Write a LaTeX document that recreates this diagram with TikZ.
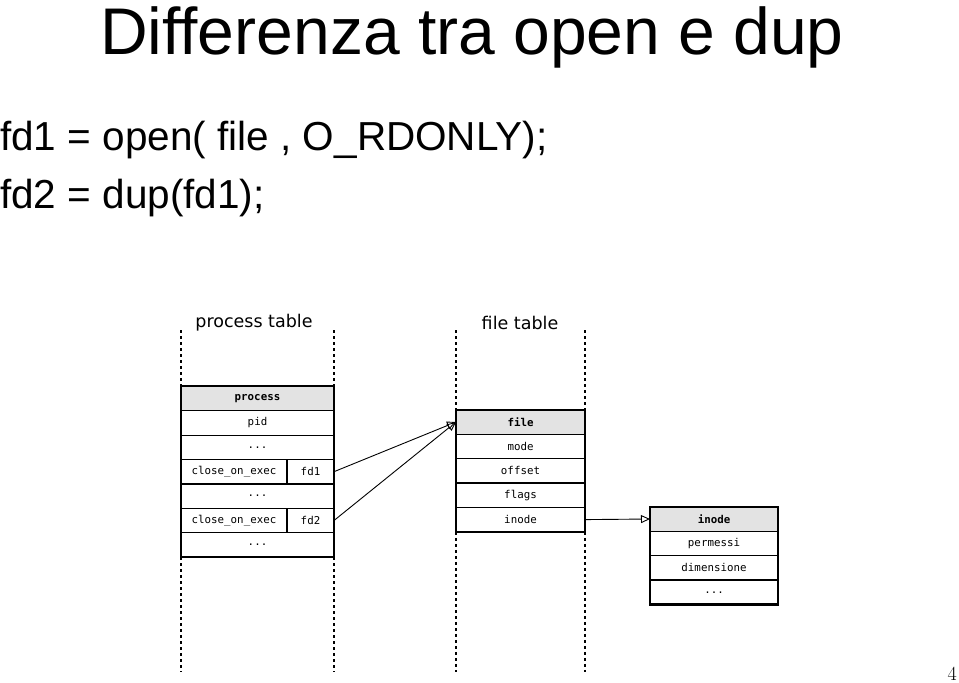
\documentclass[tikz,border=0pt]{standalone}
\usepackage{fontspec}
\newfontfamily\slidefont{Liberation Sans}
\newfontfamily\labelfont{DejaVu Sans}
\newfontfamily\cellfont{DejaVu Sans Mono}
\usetikzlibrary{arrows.meta,positioning}

\tikzset{
  cell/.style={draw,line width=1.2pt,fill=white,outer sep=0pt,inner sep=0pt,
    minimum height=24.4pt,font=\cellfont\fontsize{10.8}{10.8}\selectfont},
  head/.style={cell,fill=gray!22,font=\cellfont\bfseries\fontsize{10.8}{10.8}\selectfont},
  lane/.style={line width=2.5pt,dash pattern=on 3pt off 3pt},
  frame/.style={line width=2.2pt},
  ptr/.style={line width=0.9pt,-{Triangle[open,length=9pt,width=8pt]}}
}

\begin{document}
\begin{tikzpicture}[x=1pt,y=-1pt]
\useasboundingbox (0,0) rectangle (959,683);

% slide text
\node[anchor=base,inner sep=0pt,font=\slidefont\fontsize{66}{66}\selectfont] (title) at (472,54) {Differenza tra open e dup};
\node[anchor=base west,inner sep=0pt,font=\slidefont\fontsize{40.5}{40.5}\selectfont] (line1) at (0,150) {fd1 = open( file , O\_RDONLY);};
\node[anchor=base west,inner sep=0pt,font=\slidefont\fontsize{40.5}{40.5}\selectfont] (line2) at (0,208) {fd2 = dup(fd1);};
\node[anchor=base east,inner sep=0pt,font=\fontsize{20}{20}\selectfont] (pagenum) at (957,680) {4};

% process table
\node[font=\labelfont\fontsize{17.5}{17.5}\selectfont] (ptlabel) at (254,323) {process table};
\node[head,minimum width=153pt] (proc) at (257.5,398.5) {process};
\node[cell,minimum width=153pt,below=0pt of proc] (pid) {pid};
\node[cell,minimum width=153pt,below=0pt of pid] (dotsa) {...};
\node[cell,minimum width=106pt,anchor=north west] (coea) at (dotsa.south west) {close\_on\_exec};
\node[cell,minimum width=47pt,right=0pt of coea] (fd1) {fd1};
\node[cell,minimum width=153pt,anchor=north west] (dotsb) at (coea.south west) {...};
\node[cell,minimum width=106pt,anchor=north west] (coeb) at (dotsb.south west) {close\_on\_exec};
\node[cell,minimum width=47pt,right=0pt of coeb] (fd2) {fd2};
\node[cell,minimum width=153pt,anchor=north west] (dotsc) at (coeb.south west) {...};
\draw[frame] (proc.north west) rectangle (dotsc.south east);
\draw[lane] (proc.north west |- 0,330) -- (proc.north west);
\draw[lane] (proc.north east |- 0,330) -- (proc.north east);
\draw[lane] (dotsc.south west) -- (dotsc.south west |- 0,672);
\draw[lane] (dotsc.south east) -- (dotsc.south east |- 0,672);

% file table
\node[font=\labelfont\fontsize{17.5}{17.5}\selectfont] (ftlabel) at (520,323) {file table};
\node[head,minimum width=129pt] (file) at (520.5,422) {file};
\node[cell,minimum width=129pt,below=0pt of file] (mode) {mode};
\node[cell,minimum width=129pt,below=0pt of mode] (offset) {offset};
\node[cell,minimum width=129pt,below=0pt of offset] (flags) {flags};
\node[cell,minimum width=129pt,below=0pt of flags] (finode) {inode};
\draw[frame] (file.north west) rectangle (finode.south east);
\draw[lane] (file.north west |- 0,330) -- (file.north west);
\draw[lane] (file.north east |- 0,330) -- (file.north east);
\draw[lane] (finode.south west) -- (finode.south west |- 0,672);
\draw[lane] (finode.south east) -- (finode.south east |- 0,672);

% inode
\node[head,minimum width=128pt] (inode) at (714,519) {inode};
\node[cell,minimum width=128pt,below=0pt of inode] (perm) {permessi};
\node[cell,minimum width=128pt,below=0pt of perm] (dim) {dimensione};
\node[cell,minimum width=128pt,below=0pt of dim] (dotsd) {...};
\draw[frame] (inode.north west) rectangle (dotsd.south east);

% pointers
\draw[ptr] (fd1.east) -- (file.west);
\draw[ptr] (fd2.east) -- (file.west);
\draw[ptr] (finode.east) -- (inode.west);
\end{tikzpicture}
\end{document}
